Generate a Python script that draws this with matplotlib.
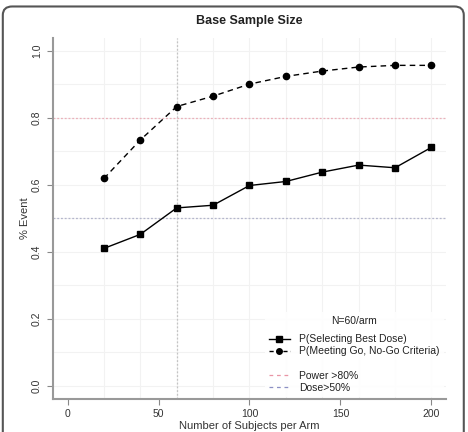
import matplotlib
matplotlib.use("Agg")
import matplotlib.pyplot as plt
from matplotlib.lines import Line2D
from matplotlib.patches import FancyBboxPatch

n_subjects = [20, 40, 60, 80, 100, 120, 140, 160, 180, 200]
p_best_dose = [0.410, 0.452, 0.531, 0.539, 0.598, 0.610, 0.638, 0.659, 0.651, 0.712]
p_go_nogo = [0.619, 0.734, 0.834, 0.865, 0.901, 0.924, 0.940, 0.952, 0.957, 0.957]
x_ticks = [0, 50, 100, 150, 200]
y_ticks = [0.0, 0.2, 0.4, 0.6, 0.8, 1.0]
power_line = 0.8
dose_line = 0.5
n_ref = 60

plt.rcParams['font.family'] = ['Liberation Sans', 'DejaVu Sans']
fig = plt.figure(figsize=(4.68, 4.32), dpi=100)
ax = fig.add_axes([0.1132, 0.0764, 0.8398, 0.8366])

# faint grid
for gx in n_subjects:
    ax.axvline(gx, color='#f2f2f2', lw=0.8, zorder=0)
for gy in [0.1 * i for i in range(11)]:
    ax.axhline(gy, color='#f2f2f2', lw=0.8, zorder=0)

ax.axvline(n_ref, color='#c4c4c4', lw=0.9, ls=(0, (1.5, 1.5)), zorder=1)
ax.axhline(power_line, color='#ebb0ba', lw=0.9, ls=(0, (1.5, 1.5)), zorder=1)
ax.axhline(dose_line, color='#b4b6cc', lw=0.9, ls=(0, (1.5, 1.5)), zorder=1)

ax.plot(n_subjects, p_best_dose, color='black', lw=1.0, marker='s', ms=4.5, zorder=3)
ax.plot(n_subjects, p_go_nogo, color='black', lw=1.0, ls=(0, (4, 3)), marker='o', ms=4.5, zorder=3)

ax.set_xlim(-8, 208)
ax.set_ylim(-0.04, 1.04)
ax.set_xticks(x_ticks)
ax.set_xticklabels([str(v) for v in x_ticks])
ax.set_yticks(y_ticks)
ax.set_yticklabels([f"{v:.1f}" for v in y_ticks], rotation=90, va='center')
ax.tick_params(colors='#888888', labelcolor='#333333', labelsize=7.5, length=4, width=0.8)
ax.tick_params(axis='y', pad=4)
for s in ['top', 'right']:
    ax.spines[s].set_visible(False)
for s in ['left', 'bottom']:
    ax.spines[s].set_color('#999999')
    ax.spines[s].set_linewidth(1.5)

ax.set_xlabel('Number of Subjects per Arm', fontsize=8, color='#333333', labelpad=1.5)
ax.set_ylabel('% Event', fontsize=8, color='#333333', labelpad=1)
ax.set_title('Base Sample Size', fontsize=9, fontweight='bold', color='#222222', pad=10)

handles = [
    Line2D([], [], color='black', lw=1.0, marker='s', ms=4),
    Line2D([], [], color='black', lw=1.0, ls=(0, (3, 2)), marker='o', ms=4),
    Line2D([], [], ls='none'),
    Line2D([], [], color='#e995a5', lw=0.9, ls=(0, (3, 3))),
    Line2D([], [], color='#8c90c4', lw=0.9, ls=(0, (3, 3))),
]
labels = ['P(Selecting Best Dose)', 'P(Meeting Go, No-Go Criteria)', '', 'Power >80%', 'Dose>50%']
leg = ax.legend(handles, labels, title='N=60/arm', loc='lower right', bbox_to_anchor=(1.0, 0.0),
                fontsize=7.5, title_fontsize=7.5, frameon=True, facecolor='white', framealpha=0.85,
                edgecolor='none', handlelength=2.0, handletextpad=0.9, labelspacing=0.2, borderpad=0.4,
                borderaxespad=0.2, fancybox=False)
leg.get_title().set_color('#222222')
leg._legend_box.sep = 6
for t in leg.get_texts():
    t.set_color('#222222')

border = FancyBboxPatch((0.006, -0.05), 0.985, 1.035, boxstyle='round,pad=0,rounding_size=0.02',
                        transform=fig.transFigure, fill=False, edgecolor='#555555', lw=1.5)
fig.patches.append(border)

fig.savefig('out.png', dpi=100)
